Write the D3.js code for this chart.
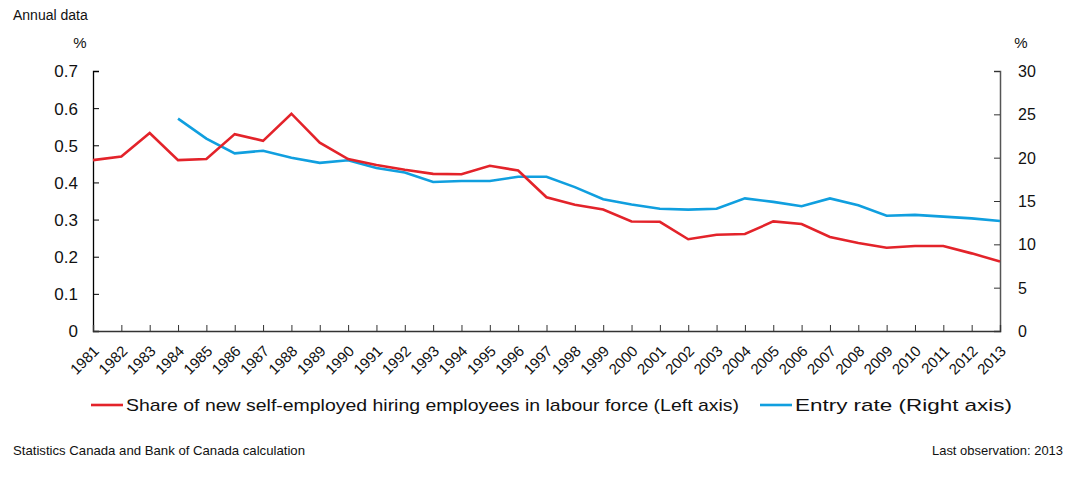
<!DOCTYPE html>
<html>
<head>
<meta charset="utf-8">
<script src="https://cdn.jsdelivr.net/npm/d3@7"></script>
<style>
  body { margin: 0; background: #fff; }
  text { font-family: "Liberation Sans", Arial, sans-serif; fill: #111; }
</style>
</head>
<body>
<script>
// years on the x axis
var years = d3.range(1981, 2014);

// share of new self-employed hiring employees (left axis, %)
var shareValues = [0.46, 0.47, 0.533, 0.46, 0.463, 0.53, 0.512, 0.585, 0.507, 0.463,
	0.447, 0.434, 0.423, 0.422, 0.445, 0.432, 0.36, 0.34, 0.327, 0.295,
	0.294, 0.247, 0.259, 0.261, 0.295, 0.288, 0.253, 0.237, 0.224, 0.229,
	0.229, 0.209, 0.187];

// entry rate (right axis, %), starts in 1984
var entryValues = [null, null, null, 24.5, 22.2, 20.5, 20.8, 20.0, 19.4, 19.7,
	18.8, 18.3, 17.2, 17.3, 17.3, 17.8, 17.8, 16.6, 15.2, 14.6,
	14.1, 14.0, 14.1, 15.3, 14.9, 14.4, 15.3, 14.5, 13.3, 13.4,
	13.2, 13.0, 12.7];

var leftTicks = [0, 0.1, 0.2, 0.3, 0.4, 0.5, 0.6, 0.7];
var rightTicks = [0, 5, 10, 15, 20, 25, 30];

var seriesNames = ["Share of new self-employed hiring employees in labour force (Left axis)", "Entry rate (Right axis)"];
var seriesColors = ["#e3232a", "#109fdf"];

//dimensions
var width = 1089,
	height = 491;
var plotLeft = 93, plotRight = 1000, plotTop = 71, plotBottom = 331;

var svg = d3.select("body")
	.append("svg")
	.attr("width", width)
	.attr("height", height);

//scales
var x = d3.scalePoint()
	.domain(years)
	.range([plotLeft, plotRight]);

var yL = d3.scaleLinear()
	.domain([0, 0.7])
	.range([plotBottom, plotTop]);

var yR = d3.scaleLinear()
	.domain([0, 30])
	.range([plotBottom, plotTop]);

//left axis
var axL = svg.append("g")
	.attr("transform", "translate(" + plotLeft + ",0)")
	.call(d3.axisRight(yL).tickValues(leftTicks).tickSize(6).tickFormat(function(d){ return d === 0 ? "0" : d3.format(".1f")(d); }));
axL.select(".domain").attr("stroke", "#000").attr("stroke-width", 1.3);
axL.selectAll(".tick line").attr("stroke", "#000");
axL.selectAll(".tick text")
	.attr("x", -15)
	.attr("text-anchor", "end")
	.attr("font-size", 17)
	.attr("dy", "0.35em");

//right axis
var axR = svg.append("g")
	.attr("transform", "translate(" + plotRight + ",0)")
	.call(d3.axisLeft(yR).tickValues(rightTicks).tickSize(6));
axR.select(".domain").attr("stroke", "#555").attr("stroke-width", 1.5);
axR.selectAll(".tick line").attr("stroke", "#333");
axR.selectAll(".tick text")
	.attr("x", 18)
	.attr("text-anchor", "start")
	.attr("font-size", 16)
	.attr("dy", "0.35em");

//bottom axis
var axB = svg.append("g")
	.attr("transform", "translate(0," + plotBottom + ")")
	.call(d3.axisTop(x).tickSize(6).tickFormat(function(d){ return ""; }));
axB.select(".domain").attr("stroke", "#333").attr("stroke-width", 1.3);
axB.selectAll(".tick line").attr("stroke", "#333");

svg.append("g")
	.selectAll("text")
	.data(years)
	.enter()
	.append("text")
	.attr("transform", function(d){ return "translate(" + (x(d) + 7) + "," + (plotBottom + 21) + ") rotate(-45)"; })
	.attr("text-anchor", "end")
	.attr("font-size", 15)
	.text(function(d){ return d; });

//unit labels
svg.append("text").attr("x", 80).attr("y", 48).attr("font-size", 15).attr("text-anchor", "middle").text("%");
svg.append("text").attr("x", 1021).attr("y", 48).attr("font-size", 15).attr("text-anchor", "middle").text("%");
svg.append("text").attr("x", 13).attr("y", 20).attr("font-size", 14).text("Annual data");

//lines
var lineL = d3.line()
	.defined(function(d){ return d != null; })
	.x(function(d, i){ return x(years[i]); })
	.y(function(d){ return yL(d); });

var lineR = d3.line()
	.defined(function(d){ return d != null; })
	.x(function(d, i){ return x(years[i]); })
	.y(function(d){ return yR(d); });

svg.append("path")
	.datum(entryValues)
	.attr("fill", "none")
	.attr("stroke", seriesColors[1])
	.attr("stroke-width", 2.6)
	.attr("d", lineR);

svg.append("path")
	.datum(shareValues)
	.attr("fill", "none")
	.attr("stroke", seriesColors[0])
	.attr("stroke-width", 2.6)
	.attr("d", lineL);

//legend
var legendX = [91, 760];
var legendW = [613, 217];
var legend = svg.selectAll(".legend")
	.data(seriesNames)
	.enter()
	.append("g")
	.attr("class", "legend")
	.attr("transform", function(d, i){ return "translate(" + legendX[i] + ",405)"; });
legend.append("line")
	.attr("x1", 0).attr("x2", 32)
	.attr("stroke", function(d, i){ return seriesColors[i]; })
	.attr("stroke-width", 2.6);
legend.append("text")
	.attr("x", 35)
	.attr("dy", "0.35em")
	.attr("font-size", 17)
	.attr("textLength", function(d, i){ return legendW[i]; })
	.attr("lengthAdjust", "spacingAndGlyphs")
	.text(function(d){ return d; });

//footer
svg.append("text").attr("x", 13).attr("y", 455).attr("font-size", 13)
	.attr("textLength", 292).attr("lengthAdjust", "spacingAndGlyphs")
	.text("Statistics Canada and Bank of Canada calculation");
svg.append("text").attr("x", 1063).attr("y", 455).attr("font-size", 13).attr("text-anchor", "end")
	.attr("textLength", 131).attr("lengthAdjust", "spacingAndGlyphs")
	.text("Last observation: 2013");
</script>
</body>
</html>
